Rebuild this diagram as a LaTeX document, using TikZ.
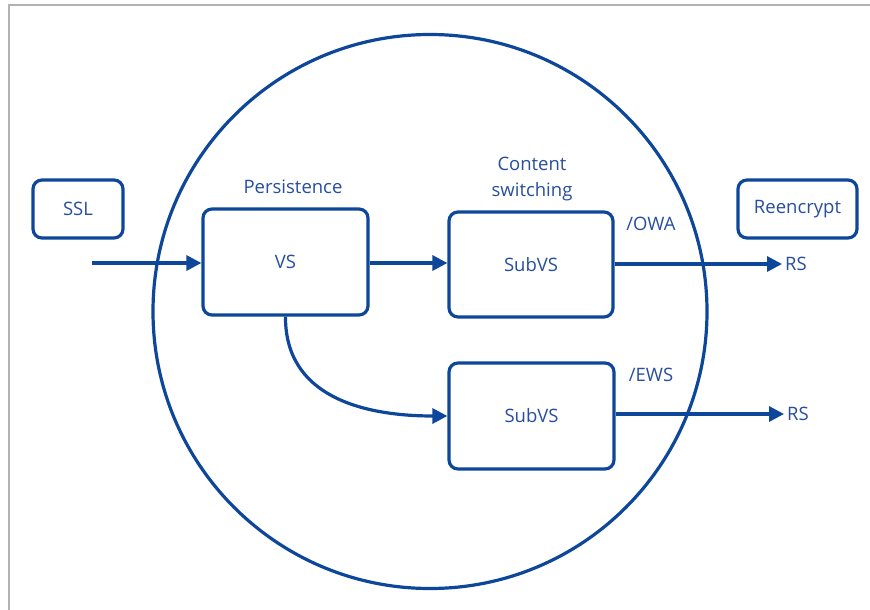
\documentclass[tikz,border=0pt]{standalone}
\usepackage{fontspec}
\setmainfont{Open Sans}
\usetikzlibrary{arrows.meta}
\definecolor{lineblue}{RGB}{14,71,153}
\definecolor{textblue}{RGB}{40,78,158}
\definecolor{framegray}{RGB}{178,178,178}
\tikzset{
  box/.style={draw=lineblue, line width=3.2pt, rounded corners=9pt, fill=white,
    text=textblue, font=\fontsize{18.5}{21}\selectfont, inner sep=0pt},
  lbl/.style={text=textblue, font=\fontsize{18.5}{21}\selectfont, inner sep=2pt},
  flow/.style={draw=lineblue, line width=3.2pt, -{Triangle[length=15pt,width=15pt]}},
}
\begin{document}
\begin{tikzpicture}[x=1pt,y=-1pt]
\useasboundingbox (0,0) rectangle (870,610);
\fill[white] (0,0) rectangle (870,610);
% frame
\draw[framegray, line width=1.8pt] (9,610) -- (9,5) -- (870,5);
% big circle
\node (circ) [draw=lineblue, line width=3.2pt, circle, minimum size=554pt, inner sep=0pt] at (430,311.5) {};
% boxes
\node (ssl) [box, minimum width=90pt, minimum height=58pt] at (78,209) {SSL};
\node (reenc) [box, minimum width=119pt, minimum height=58pt] at (797.5,209) {Reencrypt};
\node (vs) [box, minimum width=165pt, minimum height=106pt] at (285.5,262) {VS};
\node (sub1) [box, minimum width=164pt, minimum height=105pt] at (531,264.5) {SubVS};
\node (sub2) [box, minimum width=165pt, minimum height=106pt] at (531.5,416) {SubVS};
% labels
\node (pers) [lbl] at (293,187) {Persistence};
\node (cs) [lbl, align=center, font=\fontsize{18.5}{26}\selectfont] at (532,179) {Content\\switching};
\node (owa) [lbl] at (651,224) {/OWA};
\node (ews) [lbl] at (651,375) {/EWS};
\node (rs1) [lbl, anchor=west, inner sep=3pt] at (782,264) {RS};
\node (rs2) [lbl, anchor=west, inner sep=3pt] at (784,414) {RS};
% connectors
\coordinate (in) at (92,263);
\draw[flow] (in) -- (vs.west |- in);
\draw[flow] (vs.east |- in) -- (sub1.west |- in);
\draw[flow] (sub1.east |- rs1.west) -- (rs1.west);
\draw[flow] (sub2.east |- rs2.west) -- (rs2.west);
\draw[flow] (vs.south) .. controls (285,395) and (360,416) .. (sub2.west);
\end{tikzpicture}
\end{document}
